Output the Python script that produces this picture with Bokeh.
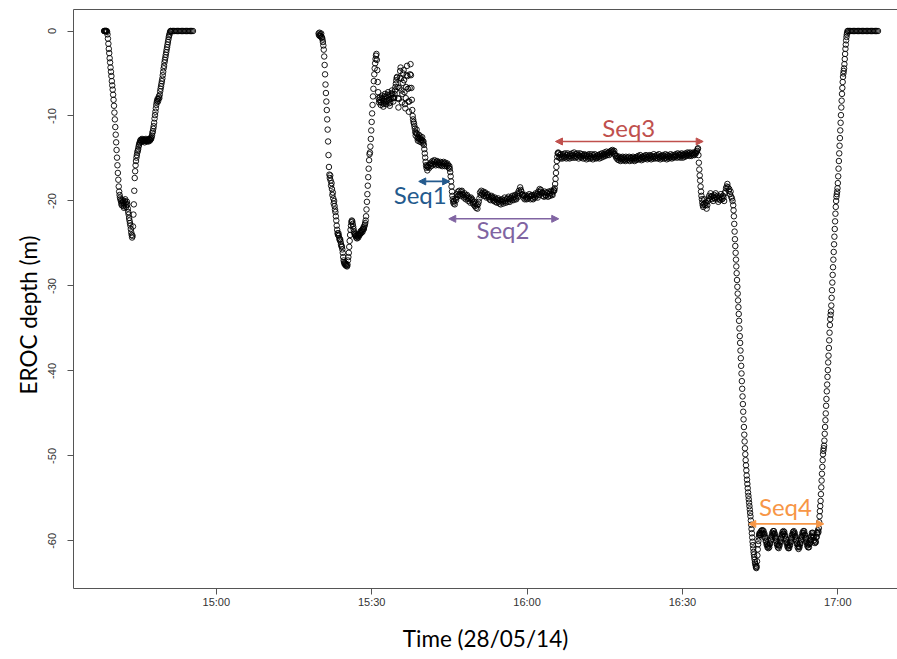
import pandas as pd
from bokeh.plotting import figure
from bokeh.models import (Range1d, FixedTicker, LinearAxis, Arrow, NormalHead,
                          ColumnDataSource, Title)
from bokeh.core.properties import value
from bokeh.embed import file_html
from bokeh.resources import INLINE

DAY = "2014-05-28"

# ---------------- data: EROC depth (m), regularly sampled blocks ----------------
# each block: start time, sampling step (s), depths read off the picture
dive1_start, dive1_step = "14:38:20", 5
dive1_depth = [0.0, 0.0, 0.0, 0.0, 0.0, 0.0, 0.0, -0.1, -0.4, -0.9, -1.5, -2.1, -2.6, -3.2, -3.7, -4.3,
               -4.8, -5.3, -5.9, -6.4, -6.9, -7.5, -8.1, -8.8, -9.6, -10.4, -11.3, -12.2, -13.1, -14.0,
               -14.9, -15.8, -16.7, -17.5, -18.3, -18.9, -19.3, -19.6, -19.8, -20.0,
               -20.3, -20.5, -20.2, -19.9, -20.1, -20.6, -20.8, -20.4, -20.0, -19.8, -20.2, -20.7, -20.5,
               -20.1, -20.4, -20.9, -21.3, -21.6,
               -22.0, -22.3, -22.6, -22.9, -23.3, -23.7, -24.0, -24.3, -24.1,
               -23.0, -21.6, -20.4, -18.8, -17.3, -16.5, -15.8, -15.3, -14.9, -14.6, -14.3, -14.1, -13.9,
               -13.6, -13.4, -13.2, -13.1,
               -12.9, -12.8, -13.0, -12.9, -12.7, -12.8, -13.0, -12.9, -12.8, -12.9, -13.1, -12.9, -12.8,
               -12.7, -12.9, -13.0, -12.9, -12.8, -12.9, -13.0, -12.8, -12.7, -12.9, -12.8, -12.6, -12.7, -12.5,
               -12.3, -12.0, -11.8, -11.5, -11.2, -10.8, -10.3, -9.9, -9.5, -9.1, -8.7, -8.4, -8.2, -8.0,
               -8.3, -8.0, -7.7, -7.9, -7.5, -7.1, -6.8, -6.5, -6.2, -5.9, -5.6, -5.2, -4.8, -4.4, -4.1,
               -3.7, -3.4, -3.1, -2.8, -2.5, -2.2, -1.9, -1.6, -1.3, -1.0, -0.7, -0.5, -0.3, -0.1, 0.0]

surf1_start, surf1_step = "14:51:15", 15
surf1_depth = [0.0, 0.0, 0.0, 0.0, 0.0, 0.0, 0.0, 0.0, 0.0, 0.0, 0.0, 0.0, 0.0, 0.0, 0.0, 0.0, 0.0, 0.0]

dive2a_start, dive2a_step = "15:19:45", 5
dive2a_depth = [-0.3, -0.5, -0.2, -0.6,
                -0.4, -0.6, -0.3, -0.7, -0.8, -1.0, -1.3, -1.7, -2.2, -3.0, -4.0, -5.1, -6.3, -7.3, -8.3,
                -9.3, -10.4, -11.6, -13.0, -14.6, -16.0, -16.9, -17.3, -17.0, -17.6, -18.2, -17.9, -18.6,
                -19.3, -19.0, -19.7, -20.3, -20.0, -20.6, -21.0, -21.3, -21.8, -22.3, -22.9, -23.4, -23.8,
                -24.0, -23.8, -24.1, -24.4, -24.6, -24.5, -24.8, -25.1, -25.3, -25.4, -25.7, -26.1, -26.6,
                -27.0, -27.2, -27.4, -27.3, -27.5, -27.6, -27.4, -27.6, -27.7, -27.5, -27.0, -26.6, -26.1,
                -25.4, -24.7, -24.0, -23.4, -22.9, -22.5, -22.3, -22.4, -22.7, -23.0, -23.3, -23.6, -23.8,
                -24.0, -23.9, -24.1, -24.3, -24.1, -24.4, -24.2, -24.0, -24.3, -24.1, -23.9, -24.0, -23.8,
                -23.6, -23.8, -23.5, -23.7, -23.4, -23.6, -23.3, -23.1, -23.3, -23.0, -22.8, -22.6, -22.3,
                -21.8, -21.0, -20.1, -19.2, -18.2, -17.2, -16.2, -15.2, -14.5, -14.3, -13.6, -12.7, -11.7,
                -10.7, -9.7, -8.7, -7.7, -6.8, -5.9, -5.1, -4.4, -3.8, -3.3, -2.9, -2.7, -3.4]

dive2b_start, dive2b_step = "15:31:05", 5
dive2b_depth = [-4.6, -6.0, -7.2, -7.9, -8.4, -8.1, -7.8, -8.3, -8.7, -8.4, -7.9, -7.6, -8.0, -8.5, -8.9,
                -8.6, -8.2, -7.7, -7.4, -7.8, -8.3, -8.6, -8.2, -7.9, -7.5, -7.2, -7.6, -8.1, -8.5, -8.8,
                -8.4, -8.0, -7.6, -7.3, -7.0, -7.4, -7.9, -8.3, -7.8,
                -7.9, -7.4, -7.0, -6.6, -6.2, -5.8, -5.5, -5.4, -6.6, -7.9, -9.0, -8.0, -6.7, -5.5, -4.7,
                -4.3, -5.6, -7.0, -8.4, -7.4, -6.1, -5.0, -4.6, -5.8, -7.2, -8.6, -9.1, -7.9, -6.6, -5.2,
                -4.1, -5.3, -6.8, -8.3, -9.5, -8.3, -6.7, -5.1, -3.9, -5.2, -6.7, -8.1, -9.3, -10.0, -10.4,
                -10.7, -10.9, -11.2, -11.5, -11.9, -12.3, -12.0, -11.6, -12.1, -12.6, -12.9, -12.5, -12.2,
                -12.7, -13.0, -12.6, -12.4, -12.8, -13.1, -12.8, -12.5, -12.9, -13.2, -13.0, -13.4, -13.9,
                -14.4, -14.9, -15.4, -15.8, -16.1, -15.9]

seq1_start, seq1_step = "15:40:45", 7.5
seq1_depth = [-16.4, -16.0, -15.8, -16.1, -15.7, -15.5, -15.9, -15.6, -15.3, -15.7, -15.4, -15.2, -15.6,
              -15.8, -15.4, -15.3, -15.7, -15.5, -15.8, -15.6, -15.4, -15.8, -15.5, -15.9, -15.7, -15.4,
              -15.6, -15.9, -15.5, -15.7, -15.9, -15.6, -15.8, -16.1, -15.9]

drop1_start, drop1_step = "15:45:05", 5
drop1_depth = [-16.2, -16.6, -17.1, -17.7, -18.3, -18.9, -19.4, -19.8, -20.1, -20.3]

seq2_start, seq2_step = "15:45:55", 7.5
seq2_depth = [-20.0, -20.4, -19.7, -19.9, -19.2, -19.5, -18.9, -19.3, -18.8, -19.2, -19.4, -18.9, -18.8, -19.2,
              -19.3, -19.6, -19.1, -19.5, -19.8, -19.4,
              -19.3, -19.7, -20.0, -19.6, -19.8, -20.2, -19.6, -19.9, -19.8, -20.2, -20.4, -20.1, -20.6, -20.3,
              -20.8, -20.5, -20.9, -20.4, -20.1, -19.7,
              -19.0, -19.3, -18.8, -19.1, -19.2, -18.9, -19.4, -19.1, -19.0, -19.4, -19.6, -19.3, -19.2, -19.6,
              -19.5, -19.8, -19.9, -19.5, -19.4, -19.7,
              -19.6, -20.0, -19.9, -19.6, -20.1, -19.8, -20.2, -19.9, -19.7, -20.1, -20.3, -19.9, -20.4, -20.0,
              -19.8, -20.1, -20.3, -19.9, -19.6, -20.0,
              -20.2, -19.8, -19.7, -20.1, -19.5, -19.8, -20.1, -19.7, -19.6, -19.9, -19.4, -19.7, -19.9, -19.5,
              -19.3, -19.7, -19.8, -19.4, -19.1, -19.5,
              -18.8, -19.1, -18.4, -18.7, -18.9, -19.2, -19.3, -19.6, -19.4, -19.8, -19.3, -19.6, -19.8, -19.5,
              -19.7, -19.4, -19.2, -19.5, -19.8, -19.4,
              -19.3, -19.7, -19.8, -19.5, -19.3, -19.6, -19.1, -19.4, -19.2, -19.6, -18.9, -19.3, -18.6, -18.9,
              -18.7, -19.1, -19.0, -19.4, -19.1, -19.5,
              -18.9, -19.3, -19.4, -19.0, -19.1, -19.5, -18.9, -19.2, -19.4, -19.0, -18.8, -19.2, -19.3, -18.9,
              -18.7]

rise1_start, rise1_step = "16:05:15", 5
rise1_depth = [-18.8, -18.5, -18.0, -17.4, -16.7, -16.0, -15.3, -14.8, -14.4, -14.3]

seq3_start, seq3_step = "16:06:05", 7.5
seq3_depth = [-14.4, -14.9, -14.6, -15.0, -14.5, -14.8, -15.0, -14.5, -14.7, -14.9, -14.4, -14.8, -15.0, -14.6,
              -14.4, -14.9, -14.7, -15.0, -14.5, -14.7,
              -14.9, -14.4, -14.6, -14.9, -14.3, -14.7, -14.9, -14.5, -14.8, -14.4, -14.6, -15.0, -14.7, -14.4,
              -14.8, -14.9, -14.5, -14.7, -15.0, -14.6,
              -14.5, -14.9, -14.7, -15.1, -14.6, -14.8, -15.0, -14.5, -14.7, -15.0, -14.8, -14.5, -14.9, -15.1,
              -14.6, -14.8, -14.5, -14.9, -15.0, -14.7,
              -14.9, -14.6, -14.8, -15.0, -14.5, -14.7, -14.9, -14.4, -14.6, -14.8, -14.5, -14.3, -14.7, -14.5,
              -14.2, -14.6, -14.4, -14.3, -14.6, -14.2,
              -14.4, -14.1, -14.3, -14.0, -14.2, -14.4, -14.1, -14.5, -14.7, -14.9, -14.7, -15.1, -14.9, -15.2,
              -14.8, -15.0, -15.3, -14.9, -15.1, -14.8,
              -15.2, -14.9, -15.1, -15.3, -14.8, -15.0, -15.2, -14.9, -15.1, -14.8, -15.3, -15.0, -14.9, -15.2,
              -15.0, -14.8, -15.1, -15.3, -14.9, -15.0,
              -15.2, -14.8, -15.0, -14.7, -15.1, -14.9, -14.6, -15.0, -15.2, -14.8, -14.9, -15.1, -14.7, -14.9,
              -15.0, -14.6, -14.8, -15.1, -14.9, -14.7,
              -15.0, -14.6, -14.9, -15.1, -14.7, -14.8, -15.0, -14.5, -14.8, -15.0, -14.7, -14.9, -14.6, -15.0,
              -14.8, -14.5, -14.9, -15.1, -14.7, -14.8,
              -15.0, -14.6, -14.8, -15.0, -14.7, -14.5, -14.9, -15.1, -14.6, -14.8, -15.0, -14.7, -14.9, -14.5,
              -14.8, -15.0, -14.6, -14.8, -14.9, -14.6,
              -14.8, -14.5, -14.7, -14.9, -14.4, -14.6, -14.8, -14.5, -14.9, -14.6, -14.4, -14.7, -14.9, -14.5,
              -14.6, -14.8, -14.4, -14.7, -14.5, -14.3,
              -14.6, -14.4, -14.7, -14.3, -14.5, -14.7, -14.4, -14.6, -14.3, -14.5, -14.6, -14.3, -14.4, -14.2,
              -14.1]

drop2_start, drop2_step = "16:32:55", 5
drop2_depth = [-13.9, -13.8, -14.6, -15.5, -16.3, -17.0, -17.6, -18.3, -18.9, -19.4, -19.8, -20.2, -20.5,
               -20.7, -20.4]

step20_start, step20_step = "16:34:10", 7.5
step20_depth = [-19.8, -20.3, -20.5, -20.2, -20.9, -20.5, -20.0, -19.7, -19.4, -19.8, -19.1, -19.5, -19.8,
                -19.4, -20.0, -19.6, -19.3, -19.7, -19.1, -19.5, -19.8, -19.4, -20.1, -19.7, -19.5, -19.9,
                -19.2, -19.6, -19.8, -19.4, -19.6, -20.0, -19.1, -18.9, -18.5, -18.3, -18.0, -18.4, -18.8,
                -18.6, -19.2, -18.9, -19.5, -19.7, -20.0]

deep_start, deep_step = "16:39:48", 4
deep_depth = [-20.5, -21.1, -21.8, -22.7, -23.6, -24.5, -25.3, -26.1, -26.9, -27.7, -28.5, -29.3, -30.1,
              -30.9, -31.7, -32.5, -33.3, -34.1, -35.0, -35.9, -36.7, -37.6, -38.5, -39.4, -40.3, -41.2,
              -42.1, -43.0, -43.9, -44.8, -45.7, -46.6, -47.5, -48.3, -49.1, -49.8, -50.5, -51.1, -51.7,
              -52.3, -52.8, -53.3, -53.8, -54.3, -54.7, -55.1, -55.5, -55.9, -56.3, -56.7, -57.1, -57.6,
              -58.1, -58.6, -59.1, -59.6, -60.1, -60.5, -60.9, -61.3, -61.6, -61.9, -62.2, -62.5, -62.7,
              -62.9, -63.1, -63.2, -63.0, -62.4, -61.7, -61.0, -60.4, -60.0, -59.6, -59.3, -59.1, -59.3]

seq4_start, seq4_step = "16:45:00", 5
seq4_depth = [-59.05, -59.25, -58.85, -59.15, -58.75, -59.05, -58.75, -59.15, -58.85, -59.25, -59.15, -59.65,
              -59.55, -60.05, -59.95, -60.45, -60.35, -60.75, -60.55, -60.85, -60.55, -60.75, -60.25, -60.35,
              -59.85, -59.95, -59.45, -59.55, -59.05, -59.25, -58.85, -59.15, -58.85, -59.25, -59.15, -59.65,
              -59.55, -60.05, -59.95, -60.45, -60.35, -60.75, -60.55, -60.85, -60.45, -60.55, -60.05, -60.15,
              -59.65, -59.75, -59.25, -59.35, -58.95, -59.15, -58.85, -59.15, -58.95, -59.45, -59.35, -59.85,
              -59.75, -60.25, -60.15, -60.65, -60.45, -60.85, -60.65, -60.85, -60.45, -60.55, -60.05, -60.15,
              -59.65, -59.75, -59.25, -59.35, -58.95, -59.15, -58.85, -59.25, -59.05, -59.55, -59.45, -59.95,
              -59.85, -60.35, -60.25, -60.75, -60.55, -60.95, -60.65, -60.75, -60.25, -60.35, -59.85, -59.95,
              -59.45, -59.55, -59.05, -59.25, -58.85, -59.05, -58.85, -59.35, -59.25, -59.75, -59.65, -60.15,
              -60.05, -60.55, -60.35, -60.75, -60.45, -60.75, -60.25, -60.35, -59.85, -59.95, -59.45, -59.55,
              -59.05, -59.25, -59.05, -59.55, -59.45, -59.95, -59.85, -60.25, -60.05, -60.15, -59.55, -59.55,
              -59.05, -59.15, -58.75, -58.95]

ascent_start, ascent_step = "16:56:20", 4
ascent_depth = [-58.5, -57.8, -57.1, -56.5, -55.9, -55.3, -54.5, -53.7, -52.9, -52.1, -51.3, -50.5, -49.8,
                -49.4, -49.1, -48.8, -48.2, -47.4, -46.6, -45.8, -45.0, -44.1, -43.3, -42.4, -41.6, -40.7,
                -39.9, -39.0, -38.2, -37.3, -36.4, -35.5, -34.6, -33.9, -33.4, -33.0, -32.3, -31.4, -30.5,
                -29.6, -28.7, -27.8, -26.9, -26.0, -25.1, -24.2, -23.3, -22.4, -21.5, -20.7, -20.0, -19.5,
                -19.2, -18.9, -18.5, -17.9, -17.1, -16.2, -15.3, -14.4, -13.5, -12.6, -11.7, -10.8, -9.9,
                -9.0, -8.2, -7.4, -6.7, -6.0, -5.4, -5.0, -4.7, -4.4, -3.9, -3.3, -2.7, -2.1, -1.6, -1.1,
                -0.7, -0.4, -0.2, 0.0]

surf2_start, surf2_step = "17:02:00", 15
surf2_depth = [0.0, 0.0, 0.0, 0.0, 0.0, 0.0, 0.0, 0.0, 0.0, 0.0, 0.0, 0.0, 0.0, 0.0, 0.0, 0.0, 0.0, 0.0,
               0.0, 0.0, 0.0, 0.0, 0.0, 0.0]

# sequence annotations
seq_names = ["Seq1", "Seq2", "Seq3", "Seq4"]
seq_from = ["15:39:05", "15:44:53", "16:05:29", "16:42:48"]
seq_to = ["15:45:03", "16:06:07", "16:34:00", "16:57:17"]
seq_arrow_depth = [-17.7, -22.1, -13.0, -58.0]
seq_label_time = ["15:39:22", "15:55:21", "16:19:38", "16:49:53"]
seq_label_depth = [-19.2, -23.3, -11.4, -55.9]
seq_colors = ["#245A8D", "#8064A2", "#C0504D", "#F79646"]

# axes
x_tick_times = ["15:00", "15:30", "16:00", "16:30", "17:00"]
y_ticks = [0, -10, -20, -30, -40, -50, -60]
y_tick_labels = ["0", "-10", "-20", "-30", "-40", "-50", "-60"]
x_limits = ("14:32:26", "17:11:31")
y_limits = (-65.6, 2.53)


def ms(hms):
    return pd.Timestamp(f"{DAY} {hms}").value / 1e6


blocks = [
    (dive1_start, dive1_step, dive1_depth), (surf1_start, surf1_step, surf1_depth),
    (dive2a_start, dive2a_step, dive2a_depth), (dive2b_start, dive2b_step, dive2b_depth),
    (seq1_start, seq1_step, seq1_depth), (drop1_start, drop1_step, drop1_depth),
    (seq2_start, seq2_step, seq2_depth), (rise1_start, rise1_step, rise1_depth),
    (seq3_start, seq3_step, seq3_depth), (drop2_start, drop2_step, drop2_depth),
    (step20_start, step20_step, step20_depth), (deep_start, deep_step, deep_depth),
    (seq4_start, seq4_step, seq4_depth), (ascent_start, ascent_step, ascent_depth),
    (surf2_start, surf2_step, surf2_depth),
]
ts, ds = [], []
for start, step, depths in blocks:
    t0 = ms(start)
    for i, d in enumerate(depths):
        ts.append(t0 + i * step * 1000.0)
        ds.append(d)
src = ColumnDataSource(dict(t=ts, d=ds))

AXIS_COL = "#555555"
TICK_FONT = "Liberation Sans"
TITLE_FONT = "Lato"

p = figure(width=897, height=655, x_axis_type="datetime",
           x_range=Range1d(ms(x_limits[0]), ms(x_limits[1])),
           y_range=Range1d(*y_limits),
           output_backend="svg", toolbar_location=None,
           min_border_left=73, min_border_right=0, min_border_top=9, min_border_bottom=67)
p.outline_line_color = None
p.grid.visible = False
p.background_fill_color = "white"
p.border_fill_color = "white"

# x axis
xt = [ms(s) for s in x_tick_times]
p.xaxis.ticker = FixedTicker(ticks=xt)
p.xaxis.major_label_overrides = {v: s for v, s in zip(xt, x_tick_times)}
p.xaxis.axis_label = "Time (28/05/14)"
p.xaxis.axis_label_text_font = TITLE_FONT
p.xaxis.axis_label_text_font_size = "22.5px"
p.xaxis.axis_label_text_font_style = "normal"
p.xaxis.axis_label_text_color = "black"
p.xaxis.axis_label_standoff = 14
# y axis
p.yaxis.ticker = FixedTicker(ticks=y_ticks)
p.yaxis.major_label_overrides = {v: s for v, s in zip(y_ticks, y_tick_labels)}
p.yaxis.major_label_orientation = "vertical"

for ax in (p.xaxis, p.yaxis):
    ax.axis_line_color = AXIS_COL
    ax.major_tick_line_color = AXIS_COL
    ax.minor_tick_line_color = None
    ax.major_tick_in = 0
    ax.major_tick_out = 6
    ax.major_label_text_font = TICK_FONT
    ax.major_label_text_font_size = "11px"
    ax.major_label_text_color = "#333333"
p.xaxis.major_label_standoff = 1
p.yaxis.major_label_standoff = 11

# frame top edge (box), drawn as a bare axis line
top_axis = LinearAxis(ticker=FixedTicker(ticks=xt), axis_line_color=AXIS_COL, axis_line_width=1,
                      major_tick_out=4, major_tick_in=0, minor_tick_out=0, minor_tick_in=0,
                      major_tick_line_color=None, minor_tick_line_color=None,
                      major_label_standoff=0, major_label_text_font_size="1px",
                      major_label_text_alpha=0)
p.add_layout(top_axis, "above")

ytitle = Title(text="EROC depth (m)", align="left", offset=194, text_font=TITLE_FONT,
               text_font_size="22.5px", text_font_style="normal", text_color="black", standoff=7)
p.add_layout(ytitle, "left")

p.scatter("t", "d", source=src, marker="circle", size=5.5, fill_color=None,
          line_color="black", line_width=0.9)

for name, a, b, yd, col in zip(seq_names, seq_from, seq_to, seq_arrow_depth, seq_colors):
    p.add_layout(Arrow(x_start=ms(a), y_start=yd, x_end=ms(b), y_end=yd,
                       line_color=col, line_width=1.6,
                       start=NormalHead(size=7, fill_color=col, line_color=col, line_width=1),
                       end=NormalHead(size=7, fill_color=col, line_color=col, line_width=1)))

lab = ColumnDataSource(dict(x=[ms(s) for s in seq_label_time], y=seq_label_depth,
                            text=seq_names, color=seq_colors))
p.text("x", "y", text="text", source=lab, text_color="color", text_font=value(TITLE_FONT),
       text_font_size=value("24px"), text_align="center", text_baseline="alphabetic")

open("out.html", "w").write(file_html(p, INLINE))
